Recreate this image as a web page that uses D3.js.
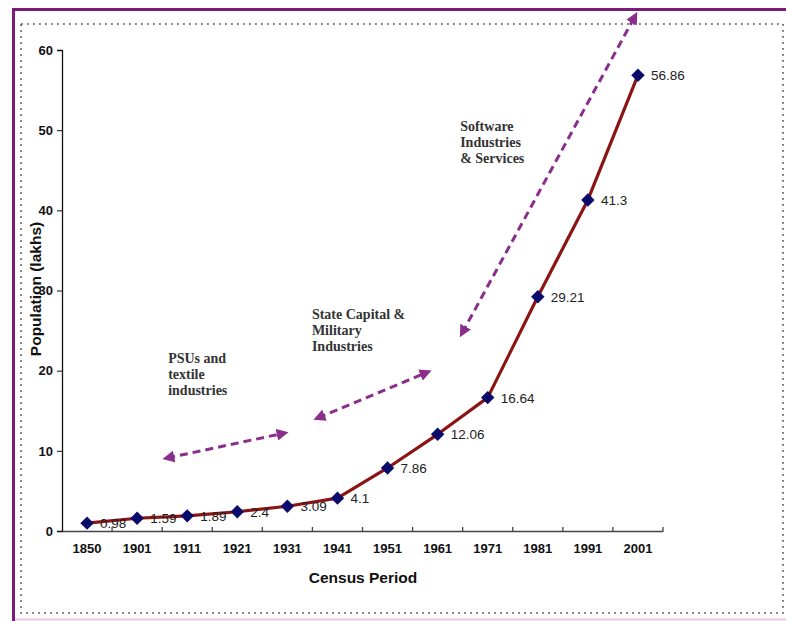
<!DOCTYPE html>
<html>
<head>
<meta charset="utf-8">
<script src="https://cdn.jsdelivr.net/npm/d3@7"></script>
<style>
  html, body { margin: 0; padding: 0; background: #fff; }
  svg { display: block; }
</style>
</head>
<body>
<svg id="chart" width="786" height="621"></svg>
<script>
// Census years and population (in lakhs)
const years = ["1850", "1901", "1911", "1921", "1931", "1941", "1951", "1961", "1971", "1981", "1991", "2001"];
const population = [0.98, 1.59, 1.89, 2.4, 3.09, 4.1, 7.86, 12.06, 16.64, 29.21, 41.3, 56.86];
const yTicks = [0, 10, 20, 30, 40, 50, 60];

// Development phases: label lines, label anchor and arrow ends as [band position, value]
const phaseLabels = [
  ["PSUs and", "textile", "industries"],
  ["State Capital &", "Military", "Industries"],
  ["Software", "Industries", "& Services"]
];
const phaseAnchors = [[1.62, 20.96], [4.49, 26.4], [7.45, 49.9]];
const phaseArrows = [
  [[1.60, 9.1], [3.93, 12.2]],
  [[4.61, 14.1], [6.79, 19.8]],
  [[7.49, 24.7], [10.94, 64.2]]
];

const svg = d3.select("#chart");
const margin = { left: 62, right: 123, top: 50, bottom: 90 };
const W = 786, H = 621;
const sans = "Arial, 'Liberation Sans', sans-serif";

const x = d3.scaleBand().domain(years).range([margin.left, W - margin.right]).paddingInner(0).paddingOuter(0);
const y = d3.scaleLinear().domain([0, 60]).range([H - margin.bottom, margin.top]);
const xPos = i => margin.left + x.bandwidth() * (i + 0.5);
const bx = v => margin.left + x.bandwidth() * (v + 0.5);

// Frame: purple outer border and dotted inner border
svg.append("line").attr("x1", 12).attr("x2", W).attr("y1", 9.5).attr("y2", 9.5)
  .attr("stroke", "#7b1c7b").attr("stroke-width", 3);
svg.append("line").attr("x1", 13.5).attr("x2", 13.5).attr("y1", 8).attr("y2", H)
  .attr("stroke", "#7b1c7b").attr("stroke-width", 3);
svg.append("line").attr("x1", 15).attr("x2", W).attr("y1", 619.5).attr("y2", 619.5)
  .attr("stroke", "#e9c6ea").attr("stroke-width", 2);
svg.append("rect").attr("x", 21).attr("y", 24).attr("width", 762).attr("height", 589)
  .attr("fill", "none").attr("stroke", "#555").attr("stroke-width", 1.6)
  .attr("stroke-dasharray", "1.8 4.2");

// Axes
const yAxis = d3.axisLeft(y).tickValues(yTicks).tickSize(5).tickPadding(4);
const gy = svg.append("g").attr("transform", `translate(${margin.left},0)`).call(yAxis);
gy.select(".domain").attr("stroke", "#111").attr("stroke-width", 1.3);
gy.selectAll(".tick line").attr("stroke", "#111");
gy.selectAll("text").attr("font-family", sans)
  .attr("font-size", 13).attr("font-weight", "bold").attr("fill", "#111");

const xAxis = d3.axisBottom(x).tickSize(0).tickPadding(13);
const gx = svg.append("g").attr("transform", `translate(0,${y(0)})`).call(xAxis);
gx.select(".domain").attr("stroke", "#444").attr("stroke-width", 1.6);
gx.selectAll("text").attr("font-family", sans)
  .attr("font-size", 13).attr("font-weight", "bold").attr("fill", "#111");
// tick marks at category boundaries
gx.selectAll(".bound").data(d3.range(1, years.length + 1)).enter().append("line")
  .attr("x1", i => margin.left + x.bandwidth() * i).attr("x2", i => margin.left + x.bandwidth() * i)
  .attr("y1", -4).attr("y2", 0).attr("stroke", "#444").attr("stroke-width", 1.3);

// Axis titles
svg.append("text").attr("x", 363).attr("y", 583).attr("text-anchor", "middle")
  .attr("font-family", sans).attr("font-size", 15.5)
  .attr("font-weight", "bold").attr("fill", "#111").text("Census Period");
svg.append("text").attr("transform", "translate(41,289) rotate(-90)").attr("text-anchor", "middle")
  .attr("font-family", sans).attr("font-size", 15.5)
  .attr("font-weight", "bold").attr("fill", "#111").text("Population (lakhs)");

// Phase arrows (dashed, double-headed)
const defs = svg.append("defs");
defs.append("marker").attr("id", "head").attr("viewBox", "0 0 10 10").attr("refX", 6).attr("refY", 5)
  .attr("markerWidth", 4).attr("markerHeight", 4).attr("orient", "auto-start-reverse")
  .append("path").attr("d", "M0,0 L10,5 L0,10 Z").attr("fill", "#8a2d8c");
svg.selectAll(".phase-arrow").data(phaseArrows).enter().append("line")
  .attr("x1", d => bx(d[0][0])).attr("y1", d => y(d[0][1]))
  .attr("x2", d => bx(d[1][0])).attr("y2", d => y(d[1][1]))
  .attr("stroke", "#8a2d8c").attr("stroke-width", 3).attr("stroke-dasharray", "8 5")
  .attr("marker-start", "url(#head)").attr("marker-end", "url(#head)");

// Phase labels
phaseLabels.forEach((lines, k) => {
  const t = svg.append("text").attr("font-family", "'Liberation Serif', 'Times New Roman', serif")
    .attr("font-size", 14).attr("font-weight", "bold").attr("fill", "#333");
  lines.forEach((ln, j) => {
    t.append("tspan").attr("x", bx(phaseAnchors[k][0])).attr("y", y(phaseAnchors[k][1]) + j * 16).text(ln);
  });
});

// Population line
const line = d3.line().x((d, i) => xPos(i)).y(d => y(d));
svg.append("path").datum(population).attr("d", line)
  .attr("fill", "none").attr("stroke", "#8b1414").attr("stroke-width", 3.2).attr("stroke-linejoin", "round");

// Diamond markers
svg.selectAll(".pt").data(population).enter().append("path")
  .attr("d", d3.symbol().type(d3.symbolDiamond2).size(115))
  .attr("transform", (d, i) => `translate(${xPos(i)},${y(d)})`)
  .attr("fill", "#0b0b6b");

// Value labels
svg.selectAll(".val").data(population).enter().append("text")
  .attr("x", (d, i) => xPos(i) + 13).attr("y", d => y(d) + 5)
  .attr("font-family", sans).attr("font-size", 13.5)
  .attr("fill", "#222").text(d => d);
</script>
</body>
</html>
